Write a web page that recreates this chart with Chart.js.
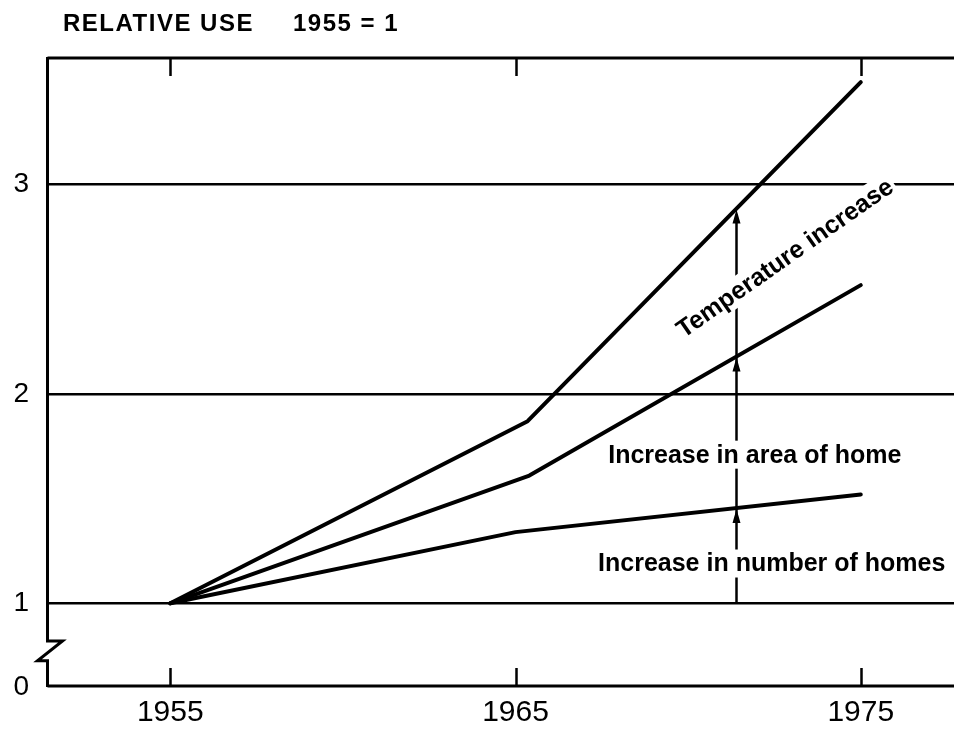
<!DOCTYPE html>
<html>
<head>
<meta charset="utf-8">
<script src="https://cdn.jsdelivr.net/npm/chart.js@4/dist/chart.umd.min.js"></script>
<style>
  html, body { margin: 0; padding: 0; background: #fff; }
</style>
</head>
<body>
<canvas id="chart" width="954" height="729"></canvas>
<script>
// ── Data ──
const tempYears  = [1955, 1965.35, 1975];
const tempUse    = [1, 1.87, 3.49];
const areaYears  = [1955, 1965.4, 1975];
const areaUse    = [1, 1.61, 2.52];
const homesYears = [1955, 1965, 1975];
const homesUse   = [1, 1.34, 1.52];

const yearTicks = [1955, 1965, 1975];
const useTicks  = [1, 2, 3];

// axis range (y is broken between 0 and 1)
const X_MIN = 1951.4, X_MAX = 1977.7;
const Y_MIN = 0.6, Y_MAX = 3.61;

// ── Annotations ──
const arrowYear   = 1971.4;
const noteTexts   = ['Temperature increase', 'Increase in area of home', 'Increase in number of homes'];
const noteYears   = [1972.8, 1971.93, 1972.42];
const noteUse     = [2.65, 1.71, 1.19];
const noteAngles  = [-35, 0, 0];

const FONT = '"Liberation Sans", Arial, sans-serif';
const INK = '#000';

const pts = (xs, ys) => xs.map((x, i) => ({ x, y: ys[i] }));

function interp(xs, ys, x) {
  for (let i = 1; i < xs.length; i++) {
    if (x <= xs[i]) {
      const t = (x - xs[i - 1]) / (xs[i] - xs[i - 1]);
      return ys[i - 1] + t * (ys[i] - ys[i - 1]);
    }
  }
  return ys[ys.length - 1];
}

// ── Arrow + notes (under the curves) and frame (on top) ──
const framePlugin = {
  id: 'frame',
  beforeDatasetsDraw(chart) {
    const { ctx, scales: { x, y } } = chart;
    const ax = Math.round(x.getPixelForValue(arrowYear)) + 0.5;
    const hits = [
      interp(homesYears, homesUse, arrowYear),
      interp(areaYears, areaUse, arrowYear),
      interp(tempYears, tempUse, arrowYear),
    ].map(v => y.getPixelForValue(v));

    ctx.save();
    ctx.strokeStyle = INK;
    ctx.fillStyle = INK;
    ctx.lineWidth = 2.5;
    ctx.beginPath();
    ctx.moveTo(ax, y.getPixelForValue(1));
    ctx.lineTo(ax, hits[2] + 6);
    ctx.stroke();

    hits.forEach(h => {
      ctx.beginPath();
      ctx.moveTo(ax, h + 1);
      ctx.lineTo(ax - 4, h + 15);
      ctx.lineTo(ax + 4, h + 15);
      ctx.closePath();
      ctx.fill();
    });

    ctx.font = `bold 25px ${FONT}`;
    ctx.textAlign = 'center';
    ctx.textBaseline = 'middle';
    noteTexts.forEach((t, i) => {
      const px = x.getPixelForValue(noteYears[i]);
      const py = y.getPixelForValue(noteUse[i]);
      const w = ctx.measureText(t).width;
      ctx.save();
      ctx.translate(px, py);
      ctx.rotate(noteAngles[i] * Math.PI / 180);
      ctx.fillStyle = '#fff';
      ctx.fillRect(-w / 2 - 3, -14, w + 6, 28);
      ctx.fillStyle = INK;
      ctx.fillText(t, 0, 1);
      ctx.restore();
    });
    ctx.restore();
  },
  afterDraw(chart) {
    const { ctx, chartArea: a, scales: { x, y } } = chart;
    const L = a.left + 1.5;
    const yb1 = y.getPixelForValue(0.82);
    const yb2 = y.getPixelForValue(0.725);

    ctx.save();
    ctx.strokeStyle = INK;
    ctx.lineWidth = 3;
    ctx.lineJoin = 'miter';

    // top and bottom borders
    ctx.beginPath();
    ctx.moveTo(L, a.top + 1);
    ctx.lineTo(a.right, a.top + 1);
    ctx.moveTo(L, a.bottom - 1);
    ctx.lineTo(a.right, a.bottom - 1);
    ctx.stroke();

    // left axis with break mark
    ctx.beginPath();
    ctx.moveTo(L, a.top);
    ctx.lineTo(L, yb1);
    ctx.lineTo(L + 15, yb1);
    ctx.lineTo(L - 10, yb2);
    ctx.lineTo(L, yb2);
    ctx.lineTo(L, a.bottom);
    ctx.stroke();

    // inward ticks, top and bottom
    ctx.lineWidth = 2.5;
    yearTicks.forEach(v => {
      const px = Math.round(x.getPixelForValue(v)) + 0.5;
      ctx.beginPath();
      ctx.moveTo(px, a.top);
      ctx.lineTo(px, a.top + 19);
      ctx.moveTo(px, a.bottom);
      ctx.lineTo(px, a.bottom - 19);
      ctx.stroke();
    });

    // title
    ctx.fillStyle = INK;
    ctx.font = `bold 24px ${FONT}`;
    ctx.textAlign = 'left';
    ctx.textBaseline = 'alphabetic';
    ctx.letterSpacing = '1.5px';
    ctx.fillText('RELATIVE USE', 63, 31);
    ctx.fillText('1955 = 1', 293, 31);
    ctx.restore();
  }
};

new Chart(document.getElementById('chart'), {
  type: 'line',
  data: {
    datasets: [
      { label: 'Temperature increase', data: pts(tempYears, tempUse) },
      { label: 'Increase in area of home', data: pts(areaYears, areaUse) },
      { label: 'Increase in number of homes', data: pts(homesYears, homesUse) },
    ].map(d => ({
      ...d,
      borderColor: INK,
      borderWidth: 4,
      pointRadius: 0,
      tension: 0,
      fill: false,
      borderCapStyle: 'round',
      borderJoinStyle: 'round',
    }))
  },
  options: {
    responsive: false,
    animation: false,
    devicePixelRatio: 1,
    layout: { padding: { top: 57, right: 0, left: 0, bottom: 0 } },
    plugins: {
      legend: { display: false },
      tooltip: { enabled: false },
    },
    scales: {
      x: {
        type: 'linear',
        min: X_MIN,
        max: X_MAX,
        afterBuildTicks: s => { s.ticks = yearTicks.map(value => ({ value })); },
        afterFit: s => { s.height = 42; },
        grid: { display: false },
        border: { display: false },
        ticks: {
          autoSkip: false,
          maxRotation: 0,
          padding: 0,
          color: INK,
          font: { family: FONT, size: 30 },
          callback: v => String(v),
        },
      },
      y: {
        type: 'linear',
        min: Y_MIN,
        max: Y_MAX,
        afterBuildTicks: s => { s.ticks = [Y_MIN, ...useTicks].map(value => ({ value })); },
        afterFit: s => { s.width = 46; },
        grid: {
          drawTicks: false,
          lineWidth: 2.5,
          color: c => (c.tick && useTicks.includes(c.tick.value)) ? INK : 'rgba(0,0,0,0)',
        },
        border: { display: false },
        ticks: {
          autoSkip: false,
          padding: 17,
          color: INK,
          font: { family: FONT, size: 28 },
          callback: v => v === Y_MIN ? '0' : String(v),
        },
      },
    },
  },
  plugins: [framePlugin],
});
</script>
</body>
</html>
